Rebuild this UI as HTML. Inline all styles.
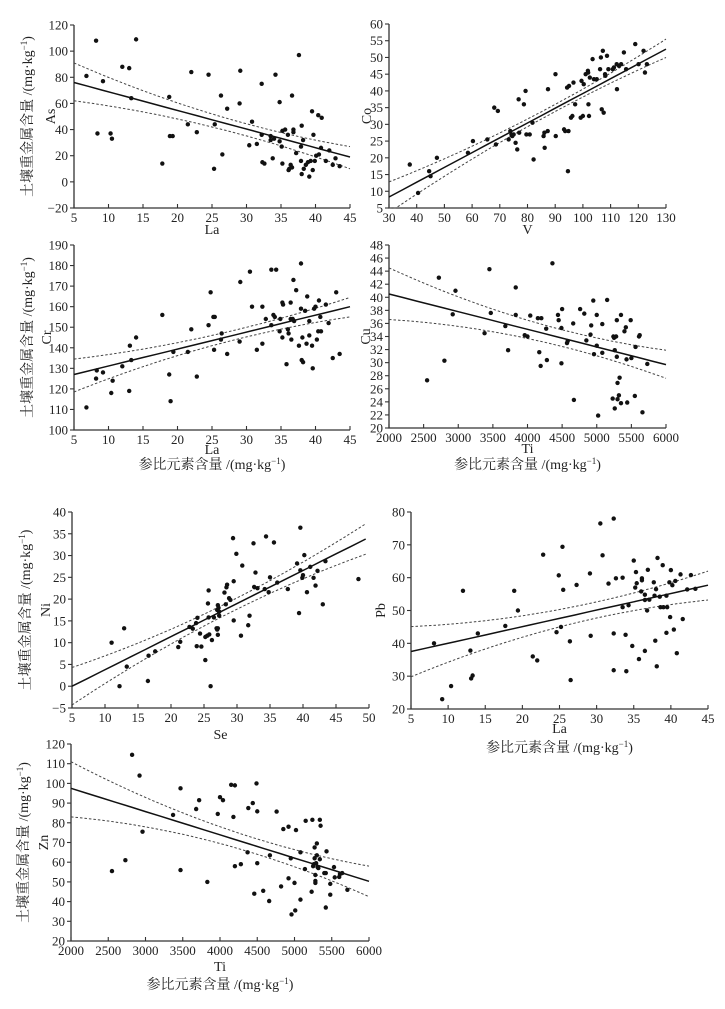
<!DOCTYPE html>
<html><head><meta charset="utf-8">
<style>
html,body{margin:0;padding:0;background:#fff;}
svg{display:block;}
text{font-family:"Liberation Serif","Noto Serif CJK SC",serif;fill:#222;}
</style></head>
<body>
<svg id="fig" width="725" height="1009" viewBox="0 0 725 1009" xmlns="http://www.w3.org/2000/svg"></svg>
<script>
// ---- Panel 1: As vs La ----
const asLaX=[6.8,8.2,8.4,9.2,10.3,10.5,12,13,13.3,14,17.8,18.8,18.9,19.3,21.5,22,22.8,24.5,25.3,25.4,26.3,26.5,27.2,29,29.1,30.4,30.8,31.5,32.2,32.2,32.3,32.6,33.5,33.5,33.8,34,34.2,34.8,34.8,35.1,35.2,35.2,35.6,36,36.1,36.2,36.4,36.6,36.6,36.8,36.8,37.2,37.6,37.9,37.9,38,38,38.2,38.3,38.6,38.9,39.1,39.3,39.5,39.6,39.7,39.9,40.1,40.4,40.5,40.8,40.9,41.5,42,42.5,42.9,43.5];
const asLaY=[81,108,37,77,37,33,88,87,64,109,14,65,35,35,44,84,38,82,10,44,66,21,56,60,85,28,46,29,75,36,15,14,35,32,18,33,82,61,31,27,14,39,40,36,9,10,13,11,66,40,38,22,97,27,16,43,6,32,10,13,15,4,16,54,9,36,16,20,51,21,26,49,16,24,13,18,12];
const asLaFitX=[5,25,45];
const asLaFit=[76,47.5,19];
const asLaUp=[91,52,27];
const asLaLo=[62,42,10];
// ---- Panel 2: Co vs V ----
const coVX=[37.5,40.5,44.5,45,47.3,58.5,60.3,65.5,68,68.6,69.3,73.2,73.8,74.2,74.5,75,75.7,76.3,76.8,77,78.7,79.3,79.6,80.8,81.8,82.2,85.8,86.1,86.2,87.3,87.4,90.1,90.2,93.2,93.6,94.3,94.6,94.8,95,95.7,96.2,96.6,97.2,99.2,99.5,100,100.3,101,101.8,101.9,102,102.2,102.5,103.5,104,105,106.2,106.5,106.8,107.2,107.5,108,108.1,108.7,109.2,110.8,111.2,112.2,112.3,113,113.8,114.8,115.6,118.9,120.1,121.9,122.4,123.1];
const coVY=[18,9.5,16,14.5,20,21.5,25,25.5,35,24,34,25.5,28,27,26.5,27,24.5,22.5,37.5,27.5,36,40,27,27,30.5,19.5,26.5,27.5,23,28,40.5,45,26.5,28.5,28,41,16,28,41.5,32,32.5,42.5,36,32,43,32.5,42,45,46,45.5,36,32.5,44,49.5,43.5,43.5,46.5,50,34.5,52,33.5,45,44.5,50.5,46.5,46.5,47,48,40.5,47.5,48,51.5,46.5,54,48,52,45.5,48];
const coVFitX=[30,80,130];
const coVFit=[8.3,30.4,52.5];
const coVUp=[12.8,31.6,55.5];
const coVLo=[3.6,29.3,50];
// ---- Panel 3: Cr vs La ----
const crLaX=[6.8,8.2,8.3,9.2,10.4,10.6,12,13,13.1,13.3,14,17.8,18.8,19,19.4,21.5,22,22.8,24.5,24.8,25.2,25.4,25.3,26.3,26.4,27.2,29,29.1,30.5,30.8,31.5,32.3,32.3,32.8,33.6,33.6,33.9,34.1,34.3,34.8,34.9,35.2,35.2,35.3,35.8,36,36.1,36.4,36.4,36.5,36.7,36.8,36.9,37.2,37.6,37.9,37.9,38,38.1,38.2,38.5,38.7,38.8,39.1,39.1,39.5,39.6,39.8,40,40.2,40.4,40.5,40.7,40.8,41.5,41.9,42.5,43,43.5];
const crLaY=[111,125,129,128,118,124,131,119,141,134,145,156,127,114,138,138,149,126,151,167,155,155,139,144,147,137,143,172,177,160,139,160,142,154,178,151,156,155,178,148,154,145,162,161,132,149,147,154,162,144,154,173,153,168,141,181,159,134,145,133,158,142,165,146,153,141,130,159,160,144,148,163,155,148,161,152,135,167,137];
const crLaFitX=[5,25,45];
const crLaFit=[127,143.5,160];
const crLaUp=[134.5,146,164.5];
const crLaLo=[118.5,141,155];
// ---- Panel 4: Cu vs Ti ----
const cuTiX=[2550,2720,2800,2920,2960,3380,3450,3470,3680,3720,3830,3830,3960,4000,4040,4150,4170,4190,4200,4270,4280,4360,4440,4450,4490,4490,4500,4570,4580,4660,4670,4760,4820,4850,4910,4920,4950,4960,5000,5000,5020,5080,5080,5150,5230,5240,5250,5260,5260,5280,5290,5290,5300,5300,5320,5330,5350,5350,5400,5420,5430,5440,5490,5500,5550,5560,5610,5620,5660,5730];
const cuTiY=[27.3,43,30.3,37.4,41,34.5,44.3,37.6,35.6,31.9,41.5,37.3,34.2,34,37.2,36.8,31.6,29.5,36.8,35.2,30.4,45.2,37.3,36.5,35.3,29.9,38.2,33,33.3,36,24.3,38.2,37.5,33.4,34.3,35.7,39.5,31.3,37.3,32.6,21.9,35.9,31.5,39.6,24.5,34,33.8,31.9,23,34,30.9,36.5,26.9,24.4,25,27.7,37.3,23.8,34.8,35.4,30.5,23.9,36.5,30.7,24.9,32.4,34,34.2,22.4,29.8];
const cuTiFitX=[2000,4000,6000];
const cuTiFit=[40.5,35.1,29.7];
const cuTiUp=[44.5,36.5,31.9];
const cuTiLo=[36.6,33.7,27.6];
// ---- Panel 5: Ni vs Se ----
const niSeX=[11,12.2,12.9,13.3,16.5,16.6,17.6,21.1,21.4,22.8,23.3,23.8,23.9,24,24.4,24.6,25.2,25.2,25.5,25.6,25.7,25.7,25.8,26,26.2,26.5,26.9,27,27,27.1,27.1,27.1,27.2,27.3,27.3,28.1,28.3,28.4,28.5,28.8,29,29.4,29.5,29.5,29.9,30.6,30.8,31.7,31.9,32.5,32.6,32.8,33.1,34.2,34.4,34.8,35,35.6,36.1,37.7,39.1,39.4,39.6,39.6,39.9,40,40.2,40.6,41.1,41.6,41.9,42.2,43,43.4,48.4];
const niSeY=[10,0,13.3,4.5,1.2,7,8,9,10.2,13.6,13.2,14.5,9.2,15.7,12.1,9.1,6,11.3,11.6,19,15.8,22,11.9,0,10.6,15.8,13.3,13,17.5,13.3,18.6,11.8,18,16.2,17.1,21.5,18.8,22.7,23.3,20.2,19.8,34,15.1,24.1,30.4,11.6,27.7,14,16.2,32.8,22.8,26.1,22.5,22.3,34.4,21.6,25,33,23.8,22.3,28.2,16.8,36.4,26.6,24.9,25.5,30.1,21.6,27.4,24.9,23.1,26.5,18.8,28.7,24.6];
const niSeFitX=[5,27,49.5];
const niSeFit=[0,16.7,33.8];
const niSeUp=[4.3,18,37.3];
const niSeLo=[-4.3,15.4,30.3];
// ---- Panel 6: Pb vs La ----
const pbLaX=[8.1,9.2,10.4,12,13,13.1,13.3,14,17.7,18.9,19.4,21.4,22,22.8,24.6,24.9,25.2,25.4,25.5,26.4,26.5,27.3,29.1,29.2,30.5,30.8,31.6,32.3,32.3,32.3,32.6,33.5,33.5,33.9,34,34.3,34.8,35,35.2,35.3,35.4,35.7,36,36.1,36.1,36.5,36.5,36.5,36.8,36.9,37.1,37.7,37.8,37.9,38,38.1,38.2,38.5,38.6,38.9,39,39.4,39.4,39.5,39.8,39.9,40,40.2,40.4,40.6,40.8,41.3,41.6,42.2,42.7,43.3];
const pbLaY=[40,23,27,56,37.8,29.3,30.2,43,45.3,56,50,36,34.8,67,43.4,60.7,45,69.4,56.3,40.6,28.8,57.8,61.3,42.3,76.5,66.8,58.2,43,31.8,78,59.8,60,51,42.6,31.5,51.6,39.2,65.2,57,61.7,58.3,35.2,55.8,59.2,59.8,54.8,53.2,37.7,50,62.4,53.3,58.6,54.5,40.8,56.5,33,66,54.2,51,63.8,51,43.2,54.5,51,58.6,48,62.3,57.7,44.2,59,37,61,47.4,56.4,60.8,56.6];
const pbLaFitX=[5,25,45];
const pbLaFit=[37.5,47.6,57.7];
const pbLaUp=[45.1,50.3,62];
const pbLaLo=[29.8,45,53.2];
// ---- Panel 7: Zn vs Ti ----
const znTiX=[2550,2730,2820,2920,2960,3370,3470,3470,3680,3720,3830,3970,4000,4040,4150,4180,4200,4200,4280,4370,4380,4440,4460,4490,4500,4500,4580,4660,4670,4760,4820,4850,4920,4920,4950,4960,5000,5010,5020,5080,5080,5140,5150,5230,5240,5250,5260,5270,5270,5280,5280,5280,5290,5300,5300,5310,5320,5340,5340,5350,5400,5420,5420,5430,5480,5480,5530,5540,5600,5610,5640,5710];
const znTiY=[55.5,61,114.5,104,75.5,84,97.5,56,87,91.5,50,84.5,93,91.5,99.3,83,99,58,59,65,87.5,90,44,100,59.5,85.8,45.5,40.3,63.5,85.7,47.7,76.8,78,51.8,62,33.5,49.5,35.5,76.3,65,41,56.5,81,45,81.5,58,59,62,67.5,50.5,49.5,53.5,59.5,69.5,63.5,57.5,57,81.5,61.5,78.5,54.5,37,54.5,65.5,43.5,49,57.5,52.3,52.5,54,54.5,46];
const znTiFitX=[2000,4000,6000];
const znTiFit=[97.5,73.9,50.3];
const znTiUp=[111,78,58];
const znTiLo=[83,69.5,42.5];

const NS='http://www.w3.org/2000/svg';
const svg=document.getElementById('fig');
function mk(tag,attrs,parent){const e=document.createElementNS(NS,tag);for(const k in attrs)e.setAttribute(k,attrs[k]);(parent||svg).appendChild(e);return e;}
function range(a,b,s){const r=[];for(let v=a;v<=b+1e-9;v+=s)r.push(+v.toFixed(6));return r;}
function quad(xs,ys,x){let s=0;for(let i=0;i<3;i++){let t=ys[i];for(let j=0;j<3;j++)if(j!==i)t*=(x-xs[j])/(xs[i]-xs[j]);s+=t;}return s;}

function panel(o){
  const g=mk('g',{});
  
  
  const sx=v=>o.x0+(v-o.xmin)/(o.xmax-o.xmin)*(o.x1-o.x0);
  const sy=v=>o.yb+(v-o.ymin)/(o.ymax-o.ymin)*(o.yt-o.yb);
  const ax=mk('path',{d:`M${o.x0},${o.yt}V${o.yb}H${o.x1}`,fill:'none',stroke:'#333','stroke-width':1.3},g);
  
  
  o.yticks.forEach(v=>{
    const y=sy(v);
    mk('line',{x1:o.x0-4,x2:o.x0,y1:y,y2:y,stroke:'#333','stroke-width':1.1},g);
    const t=mk('text',{x:o.x0-6,y:y+4.5,'text-anchor':'end','font-size':13},g);
    
    
    t.textContent=(v<0?'\u2212'+(-v):v);
  });
  o.xticks.forEach(v=>{
    const x=sx(v);
    mk('line',{x1:x,x2:x,y1:o.yb,y2:o.yb-4,stroke:'#333','stroke-width':1.1},g);
    const t=mk('text',{x:x,y:o.yb+14,'text-anchor':'middle','font-size':13},g);
    
    
    t.textContent=v;
  });
  [[o.up,'upper-confidence-band'],[o.lo,'lower-confidence-band']].forEach(([arr,nm])=>{
    let d='';const a=o.fx[0],b=o.fx[2];
    for(let i=0;i<=40;i++){const xv=a+(b-a)*i/40;let yv=quad(o.fx,arr,xv);
      let yy=Math.min(Math.max(sy(yv),o.yt),o.yb);d+=(i?'L':'M')+sx(xv).toFixed(1)+','+yy.toFixed(1);}
    const p=mk('path',{d:d,fill:'none',stroke:'#444','stroke-width':1,'stroke-dasharray':'2.5,2'},g);
    
    
  });
  let d='';const a=o.fx[0],b=o.fx[2];
  for(let i=0;i<=20;i++){const xv=a+(b-a)*i/20;d+=(i?'L':'M')+sx(xv).toFixed(1)+','+sy(quad(o.fx,o.fit,xv)).toFixed(1);}
  const rl=mk('path',{d:d,fill:'none',stroke:'#111','stroke-width':1.5},g);
  
  
  o.px.forEach((xv,i)=>{
    const c=mk('circle',{cx:sx(xv),cy:sy(o.py[i]),r:2.2,fill:'#111'},g);
    
    
  });
  const xl=mk('text',{x:(o.x0+o.x1)/2,y:o.xly,'text-anchor':'middle','font-size':14},g);
  
  
  xl.textContent=o.xlab;
  const yl=mk('text',{x:0,y:0,'text-anchor':'middle','font-size':14,transform:`translate(${o.elx},${(o.yt+o.yb)/2}) rotate(-90)`},g);
  
  
  yl.textContent=o.ylab;
  if(o.bigY){
    const t=mk('text',{x:0,y:0,'text-anchor':'middle','font-size':14,transform:`translate(${o.bigX},${(o.yt+o.yb)/2}) rotate(-90)`},g);
    
    
    t.innerHTML='土壤重金属含量 /(mg·kg<tspan dy="-5" font-size="9">−1</tspan><tspan dy="5">)</tspan>';
  }
  if(o.bigXy){
    const t=mk('text',{x:(o.x0+o.x1)/2,y:o.bigXy,'text-anchor':'middle','font-size':14},g);
    
    
    t.innerHTML='参比元素含量 /(mg·kg<tspan dy="-5" font-size="9">−1</tspan><tspan dy="5">)</tspan>';
  }
}

panel({name:'panel-as-la',x0:74,x1:350,yt:25,yb:208,xmin:5,xmax:45,ymin:-20,ymax:120,yticks:range(-20,120,20),xticks:range(5,45,5),
  px:asLaX,py:asLaY,fx:asLaFitX,fit:asLaFit,up:asLaUp,lo:asLaLo,xlab:'La',xly:234,ylab:'As',elx:55,bigY:true,bigX:32});
panel({name:'panel-co-v',x0:389,x1:666,yt:24,yb:208,xmin:30,xmax:130,ymin:5,ymax:60,yticks:range(5,60,5),xticks:range(30,130,10),
  px:coVX,py:coVY,fx:coVFitX,fit:coVFit,up:coVUp,lo:coVLo,xlab:'V',xly:234,ylab:'Co',elx:371});
panel({name:'panel-cr-la',x0:74,x1:350,yt:245,yb:430,xmin:5,xmax:45,ymin:100,ymax:190,yticks:range(100,190,10),xticks:range(5,45,5),
  px:crLaX,py:crLaY,fx:crLaFitX,fit:crLaFit,up:crLaUp,lo:crLaLo,xlab:'La',xly:454,ylab:'Cr',elx:51,bigY:true,bigX:32,bigXy:469});
panel({name:'panel-cu-ti',x0:389,x1:666,yt:245,yb:428,xmin:2000,xmax:6000,ymin:20,ymax:48,yticks:range(20,48,2),xticks:range(2000,6000,500),
  px:cuTiX,py:cuTiY,fx:cuTiFitX,fit:cuTiFit,up:cuTiUp,lo:cuTiLo,xlab:'Ti',xly:453,ylab:'Cu',elx:370,bigXy:469});
panel({name:'panel-ni-se',x0:72,x1:369,yt:512,yb:708,xmin:5,xmax:50,ymin:-5,ymax:40,yticks:range(-5,40,5),xticks:range(5,50,5),
  px:niSeX,py:niSeY,fx:niSeFitX,fit:niSeFit,up:niSeUp,lo:niSeLo,xlab:'Se',xly:739,ylab:'Ni',elx:50,bigY:true,bigX:30});
panel({name:'panel-pb-la',x0:411,x1:708,yt:512,yb:709,xmin:5,xmax:45,ymin:20,ymax:80,yticks:range(20,80,10),xticks:range(5,45,5),
  px:pbLaX,py:pbLaY,fx:pbLaFitX,fit:pbLaFit,up:pbLaUp,lo:pbLaLo,xlab:'La',xly:733,ylab:'Pb',elx:385,bigXy:752});
panel({name:'panel-zn-ti',x0:71,x1:369,yt:744,yb:941,xmin:2000,xmax:6000,ymin:20,ymax:120,yticks:range(20,120,10),xticks:range(2000,6000,500),
  px:znTiX,py:znTiY,fx:znTiFitX,fit:znTiFit,up:znTiUp,lo:znTiLo,xlab:'Ti',xly:971,ylab:'Zn',elx:48,bigY:true,bigX:28,bigXy:989});
</script>
</body></html>
